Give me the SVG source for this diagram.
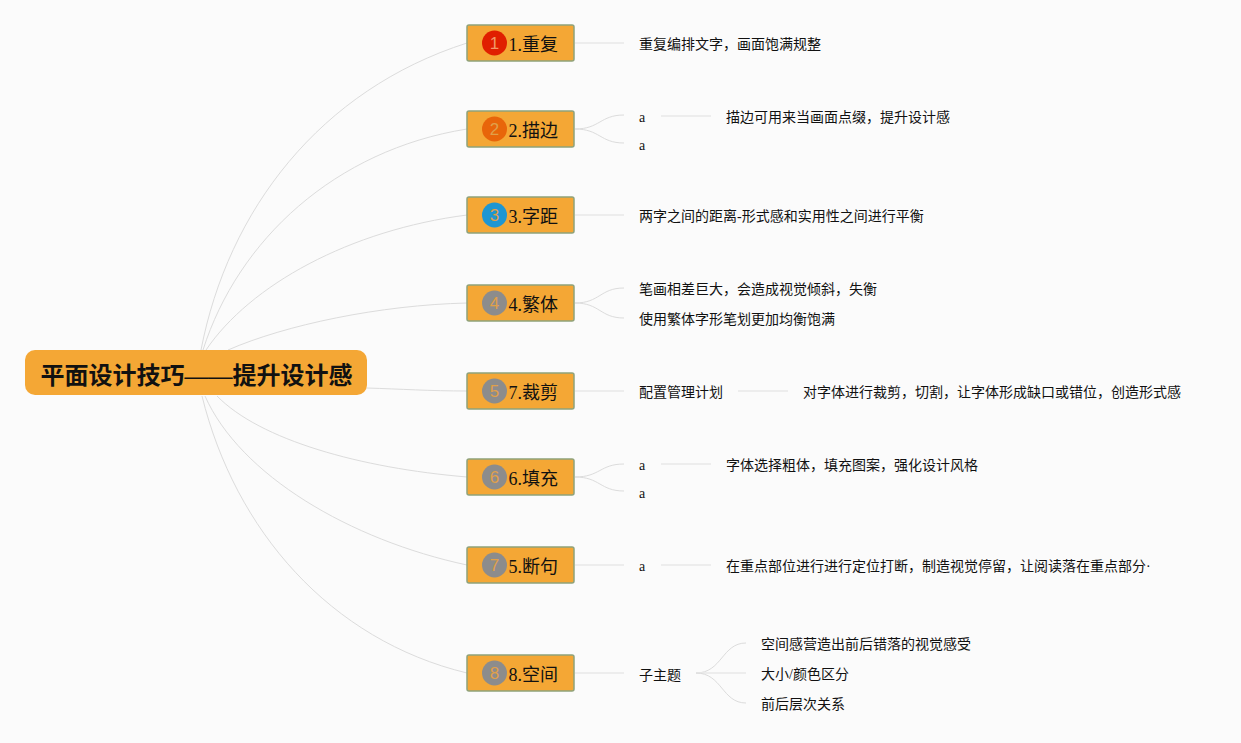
<svg xmlns="http://www.w3.org/2000/svg" width="1241" height="743" viewBox="0 0 1241 743">
<style>
text{font-family:"Liberation Serif","Noto Sans CJK SC",serif;fill:#111}
.c path{fill:none;stroke:#dcdcdc;stroke-width:1}
.c path.t{stroke:#e8e8e8;stroke-width:1.5}
.box{fill:#f4a735;stroke:#8fa27a;stroke-width:1.5}
.lab{font-size:18px}
.sub{font-size:14px}
.num{font-family:"Liberation Sans",sans-serif;font-size:17px;text-anchor:middle;fill:#e0a04a}
.g{fill:#8c8c8c}
</style>
<rect width="1241" height="743" fill="#fbfbfb"/>
<g id="connectors" class="c">
<path d="M201 350C228 210 320 90 467 43"/>
<path d="M203 350C238 240 335 150 467 129"/>
<path d="M206 350C250 285 350 230 467 215"/>
<path d="M228 350C285 325 380 305 467 303"/>
<path d="M367 388C400 389 430 391 467 391"/>
<path d="M217 396C260 440 360 468 467 477"/>
<path d="M205 396C240 475 350 540 467 565"/>
<path d="M202 396C235 530 330 640 467 673"/>
<path class="t" d="M575 43H624"/>
<path d="M575 129C600 129 600 115 624 115"/>
<path d="M575 129C600 129 600 143 624 143"/>
<path class="t" d="M661 116H711"/>
<path class="t" d="M575 215H624"/>
<path d="M575 303C600 303 600 288 624 288"/>
<path d="M575 303C600 303 600 318 624 318"/>
<path class="t" d="M575 391H624"/>
<path class="t" d="M738 391H788"/>
<path d="M575 477C600 477 600 464 624 464"/>
<path d="M575 477C600 477 600 491 624 491"/>
<path class="t" d="M661 464H711"/>
<path class="t" d="M575 565H624"/>
<path class="t" d="M661 565H711"/>
<path class="t" d="M575 673H624"/>
<path d="M696 673C722 673 722 643 746 643"/>
<path class="t" d="M696 673H746"/>
<path d="M696 673C722 673 722 703 746 703"/>
</g>
<g id="root"><rect x="25" y="350" width="342" height="45" rx="10" fill="#f4a735"/><text x="40.500" y="384" font-size="24" font-weight="bold">平面设计技巧——提升设计感</text></g>
<g id="n1"><rect class="box" x="467" y="25" width="107" height="36" rx="2"/><circle cx="494.500" cy="43" r="12.500" fill="#e01f00"/><text class="num" x="494.500" y="49" style="fill:#f09a6a">1</text><text class="lab" x="508.500" y="51">1.重复</text><text class="sub" x="639" y="49">重复编排文字，画面饱满规整</text></g>
<g id="n2"><rect class="box" x="467" y="111" width="107" height="36" rx="2"/><circle cx="494.500" cy="129" r="12.500" fill="#e8650a"/><text class="num" x="494.500" y="135">2</text><text class="lab" x="508.500" y="137">2.描边</text><text class="sub" x="639" y="122">a</text><text class="sub" x="639" y="150">a</text><text class="sub" x="726" y="122">描边可用来当画面点缀，提升设计感</text></g>
<g id="n3"><rect class="box" x="467" y="197" width="107" height="36" rx="2"/><circle cx="494.500" cy="215" r="12.500" fill="#1e96d2"/><text class="num" x="494.500" y="221">3</text><text class="lab" x="508.500" y="223">3.字距</text><text class="sub" x="639" y="221">两字之间的距离-形式感和实用性之间进行平衡</text></g>
<g id="n4"><rect class="box" x="467" y="285" width="107" height="36" rx="2"/><circle class="g" cx="494.500" cy="303" r="12.500"/><text class="num" x="494.500" y="309">4</text><text class="lab" x="508.500" y="311">4.繁体</text><text class="sub" x="639" y="294">笔画相差巨大，会造成视觉倾斜，失衡</text><text class="sub" x="639" y="324">使用繁体字形笔划更加均衡饱满</text></g>
<g id="n5"><rect class="box" x="467" y="373" width="107" height="36" rx="2"/><circle class="g" cx="494.500" cy="391" r="12.500"/><text class="num" x="494.500" y="397">5</text><text class="lab" x="508.500" y="399">7.裁剪</text><text class="sub" x="639" y="397">配置管理计划</text><text class="sub" x="803" y="397">对字体进行裁剪，切割，让字体形成缺口或错位，创造形式感</text></g>
<g id="n6"><rect class="box" x="467" y="459" width="107" height="36" rx="2"/><circle class="g" cx="494.500" cy="477" r="12.500"/><text class="num" x="494.500" y="483">6</text><text class="lab" x="508.500" y="485">6.填充</text><text class="sub" x="639" y="470">a</text><text class="sub" x="639" y="498">a</text><text class="sub" x="726" y="470">字体选择粗体，填充图案，强化设计风格</text></g>
<g id="n7"><rect class="box" x="467" y="547" width="107" height="36" rx="2"/><circle class="g" cx="494.500" cy="565" r="12.500"/><text class="num" x="494.500" y="571">7</text><text class="lab" x="508.500" y="573">5.断句</text><text class="sub" x="639" y="571">a</text><text class="sub" x="726" y="571">在重点部位进行进行定位打断，制造视觉停留，让阅读落在重点部分·</text></g>
<g id="n8"><rect class="box" x="467" y="655" width="107" height="36" rx="2"/><circle class="g" cx="494.500" cy="673" r="12.500"/><text class="num" x="494.500" y="679">8</text><text class="lab" x="508.500" y="681">8.空间</text><text class="sub" x="639" y="680">子主题</text><text class="sub" x="761" y="649">空间感营造出前后错落的视觉感受</text><text class="sub" x="761" y="679">大小/颜色区分</text><text class="sub" x="761" y="709">前后层次关系</text></g>
</svg>
